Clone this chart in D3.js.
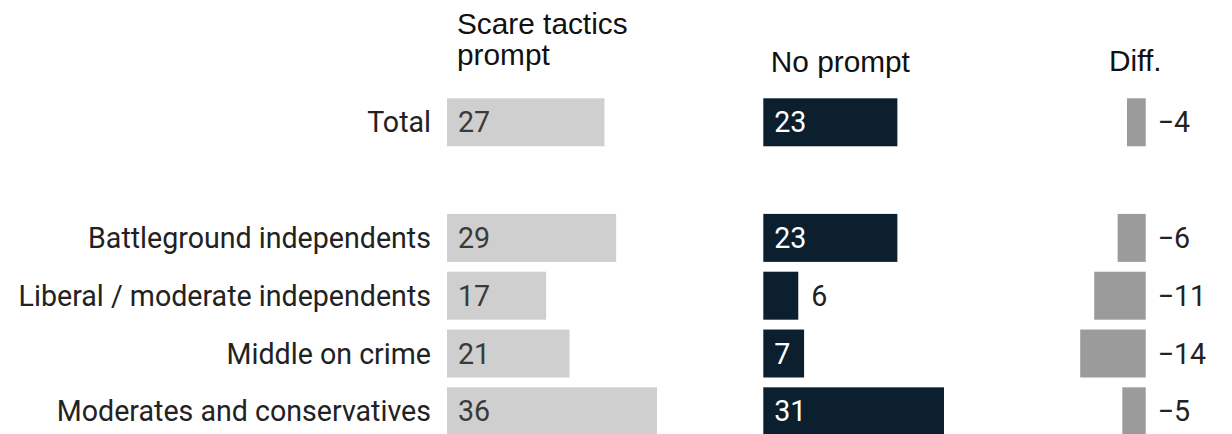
<!DOCTYPE html>
<html>
<head>
<meta charset="utf-8">
<script src="https://cdn.jsdelivr.net/npm/d3@7"></script>
<style>
  html, body { margin: 0; padding: 0; background: #fff; }
  svg { display: block; }
</style>
</head>
<body>
<svg id="chart" width="1232" height="434"></svg>
<script>
// ---- Data ----
const categories = ["Total", "Battleground independents", "Liberal / moderate independents", "Middle on crime", "Moderates and conservatives"];
const scareValues = [27, 29, 17, 21, 36];
const noPromptValues = [23, 23, 6, 7, 31];
const diffValues = [-4, -6, -11, -14, -5];
const columnTitles = [["Scare tactics", "prompt"], ["No prompt"], ["Diff."]];

// ---- Layout ----
const W = 1232, H = 434;
const svg = d3.select("#chart");
const labelFont = "Roboto, 'Noto Sans', sans-serif";
const headFont = "'Liberation Sans', Arial, Helvetica, sans-serif";
const labelSize = 28.6;

const rows = [categories[0], "__gap__", ...categories.slice(1)];
const y = d3.scaleBand().domain(rows).range([98.3, 435.3]).paddingInner(0.17).paddingOuter(0);

const xScare = d3.scaleLinear().domain([0, 36]).range([447, 657]);
const xNo = d3.scaleLinear().domain([0, 31]).range([763.3, 944]);
const diffRight = 1145.7;
const xDiff = d3.scaleLinear().domain([0, 14]).range([0, 65.5]);

const data = categories.map((c, i) => ({ cat: c, scare: scareValues[i], no: noPromptValues[i], diff: diffValues[i] }));

// Category labels
svg.append("g").selectAll("text").data(data).join("text")
  .attr("x", 431)
  .attr("y", d => y(d.cat) + y.bandwidth() / 2)
  .attr("dy", "0.35em")
  .attr("text-anchor", "end")
  .attr("font-family", labelFont)
  .attr("font-size", labelSize)
  .attr("fill", "#222")
  .text(d => d.cat);

// Scare tactics bars
const gS = svg.append("g");
gS.selectAll("rect").data(data).join("rect")
  .attr("x", xScare(0))
  .attr("y", d => y(d.cat))
  .attr("width", d => xScare(d.scare) - xScare(0))
  .attr("height", y.bandwidth())
  .attr("fill", "#cfcfcf");
gS.selectAll("text").data(data).join("text")
  .attr("x", xScare(0) + 11)
  .attr("y", d => y(d.cat) + y.bandwidth() / 2)
  .attr("dy", "0.35em")
  .attr("font-family", labelFont)
  .attr("font-size", labelSize)
  .attr("fill", "#3a3a3a")
  .text(d => d.scare);

// No prompt bars
const gN = svg.append("g");
gN.selectAll("rect").data(data).join("rect")
  .attr("x", xNo(0))
  .attr("y", d => y(d.cat))
  .attr("width", d => xNo(d.no) - xNo(0))
  .attr("height", y.bandwidth())
  .attr("fill", "#0b1f2e");
gN.selectAll("text").data(data).join("text")
  .attr("x", d => d.no < 7 ? xNo(d.no) + 13 : xNo(0) + 11)
  .attr("y", d => y(d.cat) + y.bandwidth() / 2)
  .attr("dy", "0.35em")
  .attr("font-family", labelFont)
  .attr("font-size", labelSize)
  .attr("fill", d => d.no < 7 ? "#222" : "#fff")
  .text(d => d.no);

// Diff bars
const gD = svg.append("g");
gD.selectAll("rect").data(data).join("rect")
  .attr("x", d => diffRight - xDiff(Math.abs(d.diff)))
  .attr("y", d => y(d.cat))
  .attr("width", d => xDiff(Math.abs(d.diff)))
  .attr("height", y.bandwidth())
  .attr("fill", "#9b9b9b");
gD.selectAll("text").data(data).join("text")
  .attr("x", diffRight + 12)
  .attr("y", d => y(d.cat) + y.bandwidth() / 2)
  .attr("dy", "0.35em")
  .attr("font-family", labelFont)
  .attr("font-size", labelSize)
  .attr("fill", "#222")
  .text(d => "\u2212" + Math.abs(d.diff));

// Column headers
const heads = [
  { lines: columnTitles[0], x: xScare(0) + 10, y: 33.5 },
  { lines: columnTitles[1], x: xNo(0) + 7.5, y: 72 },
  { lines: columnTitles[2], x: 1109, y: 71 }
];
heads.forEach(h => {
  const t = svg.append("text")
    .attr("font-family", headFont)
    .attr("font-size", 29.8)
    .attr("fill", "#111");
  h.lines.forEach((l, i) => {
    t.append("tspan").attr("x", h.x).attr("y", h.y + i * 31.5).text(l);
  });
});
</script>
</body>
</html>
